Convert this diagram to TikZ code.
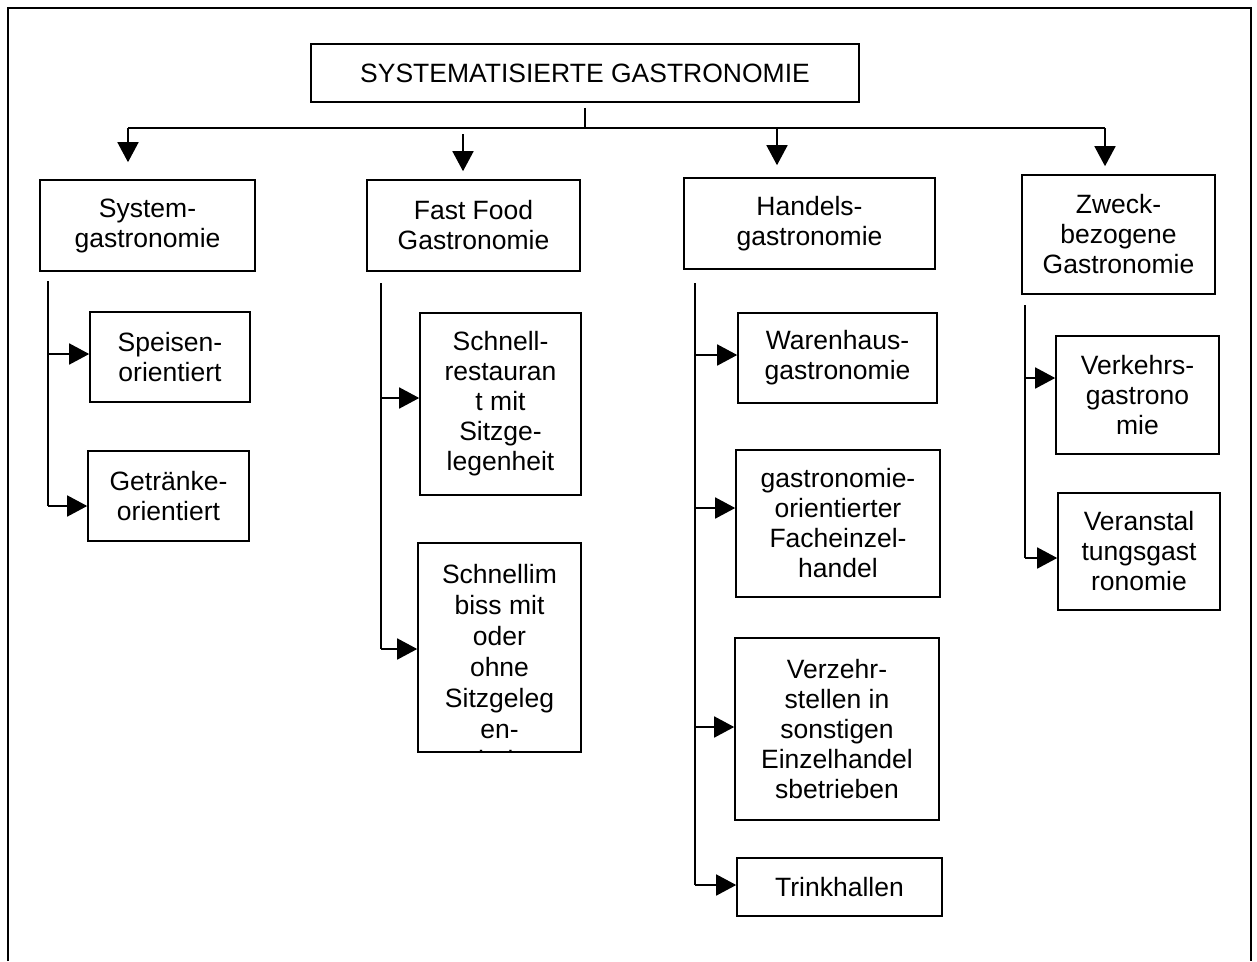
\documentclass[tikz,border=0pt]{standalone}
\usepackage{fontspec}
\setmainfont{Liberation Sans}
\usetikzlibrary{arrows.meta}
\tikzset{
  box/.style={draw, line width=1.6pt, align=center, inner sep=0pt,
    font=\fontsize{26.5}{30}\selectfont},
  conn/.style={line width=1.6pt},
  arr/.style={line width=1.6pt, -{Triangle[length=20pt,width=21pt]}},
}
\begin{document}
\begin{tikzpicture}[x=1pt,y=-1pt]
    \useasboundingbox (0,0) rectangle (1257,961);
    \draw[line width=2pt] (8,961) -- (8,8) -- (1251,8) -- (1251,961);

    \node[box, minimum width=548pt, minimum height=58pt] (title) at (585,73) {SYSTEMATISIERTE GASTRONOMIE};

    \node[box, minimum width=215pt, minimum height=91pt] (sys) at (147.5,225.5) {System-\\gastronomie};
    \node[box, minimum width=213pt, minimum height=91pt] (fast) at (473.5,225.5) {Fast Food\\Gastronomie};
    \node[box, minimum width=251pt, minimum height=91pt] (handel) at (809.5,223.5) {Handels-\\gastronomie};
    \node[box, minimum width=193pt, minimum height=119pt] (zweck) at (1118.5,234.5) {Zweck-\\bezogene\\Gastronomie};

    \node[box, minimum width=160pt, minimum height=90pt] (speisen) at (170,357) {Speisen-\\orientiert};
    \node[box, minimum width=161pt, minimum height=90pt] (getraenke) at (168.5,496) {Getränke-\\orientiert};

    \node[box, minimum width=161pt, minimum height=182pt] (schnell) at (500.5,404) {Schnell-\\restauran\\t mit\\Sitzge-\\legenheit};
    \node[box, minimum width=163pt, minimum height=209pt] (imbiss) at (499.5,647.5) {};
    \begin{scope}
        \clip (imbiss.north west) rectangle (imbiss.south east);
        \node[anchor=north, align=center, inner sep=0pt, font=\fontsize{26.5}{31}\selectfont] (imbisstext) at ([yshift=-22pt]imbiss.north) {Schnellim\\biss mit\\oder\\ohne\\Sitzgeleg\\en-\\heit};
    \end{scope}

    \node[box, minimum width=199pt, minimum height=90pt] (waren) at (837.5,358) {Warenhaus-\\gastronomie};
    \node[box, minimum width=204pt, minimum height=147pt] (fach) at (838,523.5) {gastronomie-\\orientierter\\Facheinzel-\\handel};
    \node[box, minimum width=204pt, minimum height=182pt] (verzehr) at (837,729) {Verzehr-\\stellen in\\sonstigen\\Einzelhandel\\sbetrieben};
    \node[box, minimum width=205pt, minimum height=58pt] (trink) at (839.5,887) {Trinkhallen};

    \node[box, minimum width=163pt, minimum height=118pt] (verkehr) at (1137.5,395) {Verkehrs-\\gastrono\\mie};
    \node[box, minimum width=162pt, minimum height=117pt] (veranst) at (1139,551.5) {Veranstal\\tungsgast\\ronomie};

    \coordinate (hub) at (585,128);
    \coordinate (bus1) at (128,128);
    \coordinate (bus2) at (463,134);
    \coordinate (bus3) at (777,128);
    \coordinate (bus4) at (1105,128);
    \draw[conn] ([yshift=-5pt]title.south) -- (hub);
    \draw[conn] (bus1) -- (bus4);
    \draw[arr, shorten >=17pt] (bus1) -- (bus1 |- sys.north);
    \draw[arr, shorten >=8pt] (bus2) -- (bus2 |- fast.north);
    \draw[arr, shorten >=12pt] (bus3) -- (bus3 |- handel.north);
    \draw[arr, shorten >=8pt] (bus4) -- (bus4 |- zweck.north);

    \coordinate (sys0) at (48,281);
    \coordinate (sys1) at (48,354);
    \coordinate (sys2) at (48,506);
    \draw[conn] (sys0) -- (sys2);
    \draw[arr] (sys1) -- (sys1 -| speisen.west);
    \draw[arr] (sys2) -- (sys2 -| getraenke.west);

    \coordinate (fast0) at (381,283);
    \coordinate (fast1) at (381,398);
    \coordinate (fast2) at (381,649);
    \draw[conn] (fast0) -- (fast2);
    \draw[arr] (fast1) -- (fast1 -| schnell.west);
    \draw[arr] (fast2) -- (fast2 -| imbiss.west);

    \coordinate (handel0) at (695,283);
    \coordinate (handel1) at (695,355);
    \coordinate (handel2) at (695,508);
    \coordinate (handel3) at (695,727);
    \coordinate (handel4) at (695,885);
    \draw[conn] (handel0) -- (handel4);
    \draw[arr] (handel1) -- (handel1 -| waren.west);
    \draw[arr] (handel2) -- (handel2 -| fach.west);
    \draw[arr] (handel3) -- (handel3 -| verzehr.west);
    \draw[arr] (handel4) -- (handel4 -| trink.west);

    \coordinate (zweck0) at (1025,305);
    \coordinate (zweck1) at (1025,378);
    \coordinate (zweck2) at (1025,558);
    \draw[conn] (zweck0) -- (zweck2);
    \draw[arr] (zweck1) -- (zweck1 -| verkehr.west);
    \draw[arr] (zweck2) -- (zweck2 -| veranst.west);
\end{tikzpicture}
\end{document}
